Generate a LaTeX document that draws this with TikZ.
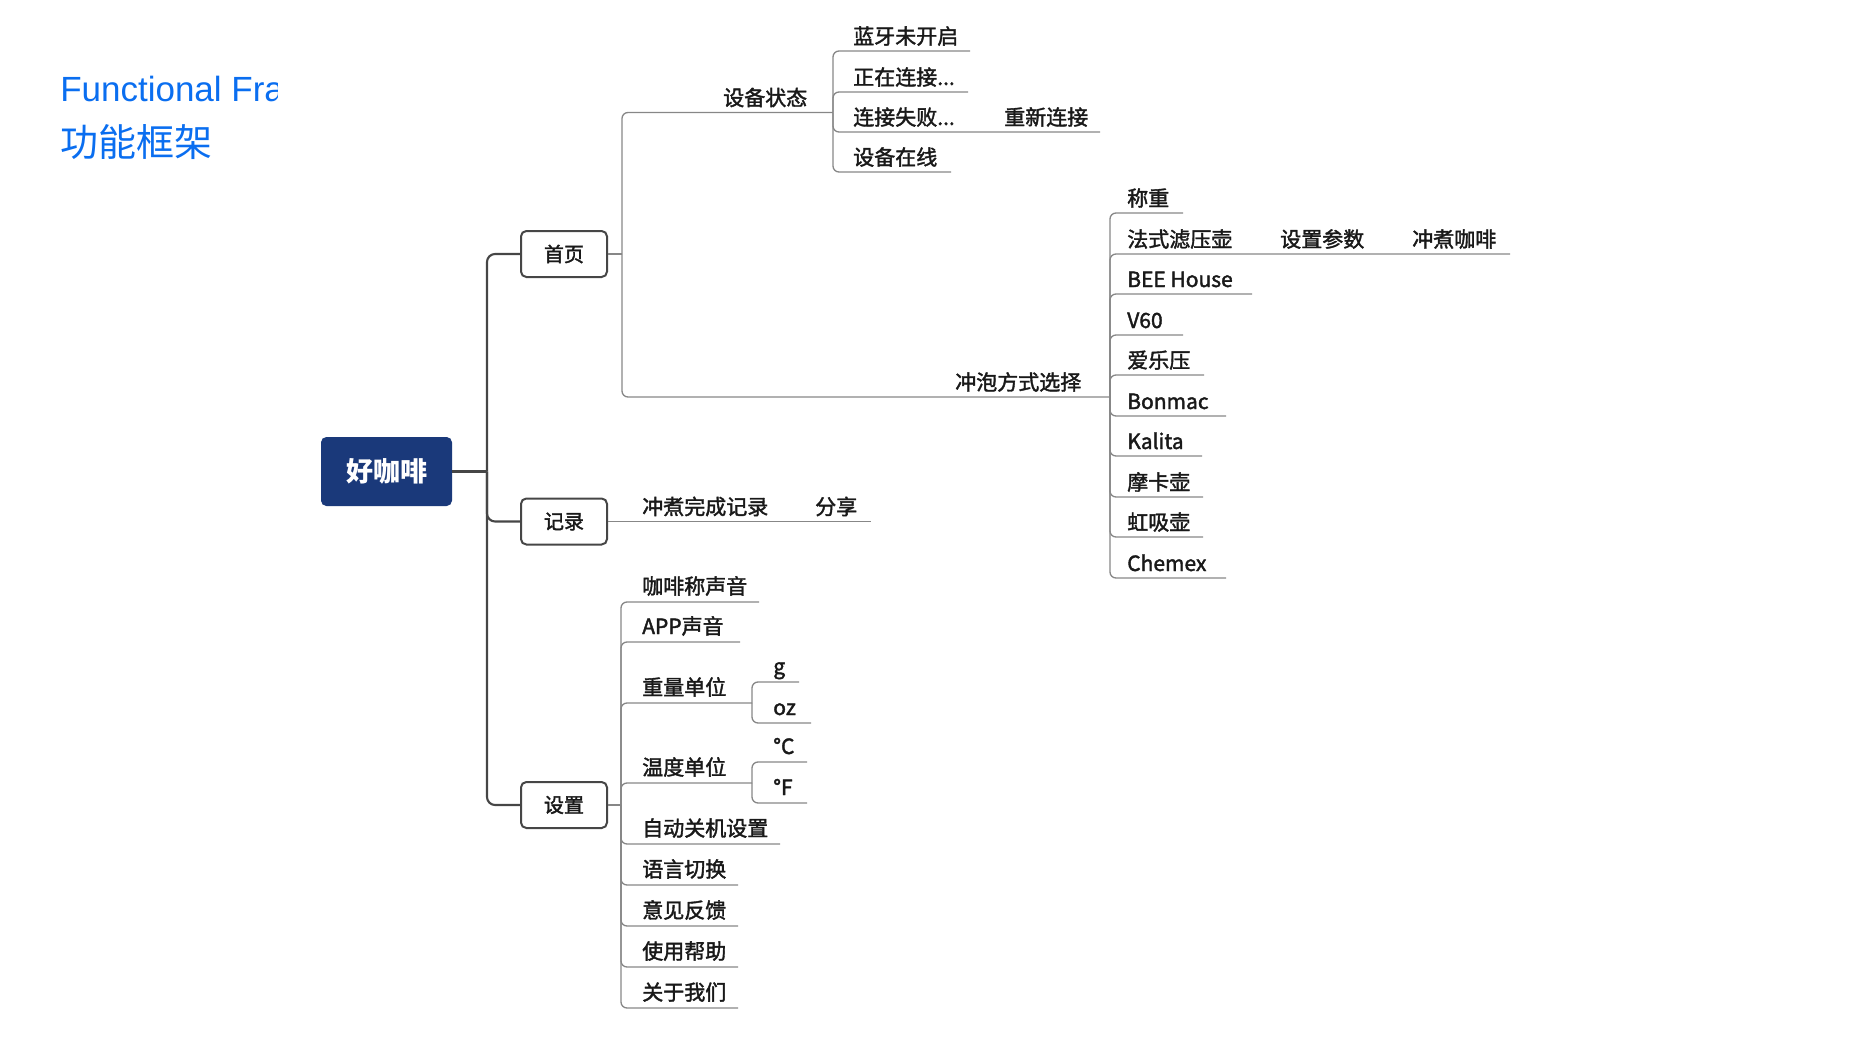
\documentclass[tikz,border=0pt]{standalone}
\usepackage{fontspec}
\setmainfont{Noto Sans CJK SC}
\newfontfamily\semib{Noto Sans CJK SC}[FakeBold=1.8]
\newfontfamily\latinf{Liberation Sans}
\definecolor{titleblue}{RGB}{10,110,240}
\definecolor{rootblue}{RGB}{26,57,122}
\definecolor{tline}{RGB}{70,70,70}
\definecolor{bline}{RGB}{135,135,135}
\definecolor{txtc}{RGB}{25,25,25}
\begin{document}
\begin{tikzpicture}[x=0.75pt,y=-0.75pt,
  txt/.style={anchor=base west, inner sep=0pt, text=txtc, font=\semib\fontsize{15.75pt}{18pt}\selectfont},
  l2/.style={draw=bline, line width=1pt, rounded corners=4.5pt},
  trunkl/.style={draw=tline, line width=1.6pt, rounded corners=6pt},
  lvbox/.style={draw=tline, line width=1.5pt, rounded corners=4pt, fill=white,
    minimum width=64.5pt, minimum height=34.5pt, inner sep=0pt, text=txtc,
    font=\semib\fontsize{15pt}{18pt}\selectfont},
  rootbox/.style={fill=rootblue, rounded corners=4pt, minimum width=98.25pt,
    minimum height=51.75pt, inner sep=0pt, text=white,
    font=\bfseries\fontsize{20.25pt}{24pt}\selectfont}
]
\useasboundingbox (0,0) rectangle (1867,1050);

% title
\begin{scope}
  \clip (0,0) rectangle (277,200);
  \node[anchor=base west, inner sep=0pt, text=titleblue,
    font=\latinf\fontsize{26.25pt}{30pt}\selectfont] (t1) at (60,101) {Functional Fra};
\end{scope}
\node[anchor=base west, inner sep=0pt, text=titleblue,
  font=\fontsize{28.5pt}{32pt}\selectfont] (t2) at (60,156) {功能框架};

% root and level 1
\node[rootbox] (root) at (386.5,471.5) {好咖啡};
\node[lvbox] (shouye) at (564,254) {首页};
\node[lvbox] (jilu) at (564,521.5) {记录};
\node[lvbox] (shezhi) at (564,805) {设置};

\coordinate (tr) at (487,471.5);
\draw[trunkl] (root.east) -- (tr);
\draw[trunkl] (tr) |- (shouye.west);
\draw[trunkl] (tr) |- (jilu.west);
\draw[trunkl] (tr) |- (shezhi.west);

% ---------- 首页 ----------
\coordinate (sy-b) at (622,254);
\draw[l2] (shouye.east) -- (sy-b);
\coordinate (zt-b) at (833,112.5);
\coordinate (cp-b) at (1110,397);
\draw[l2] (sy-b) |- (zt-b);
\draw[l2] (sy-b) |- (cp-b);
\node[txt] (zt) at (723,105.5) {设备状态};
\node[txt] (cp) at (955,390) {冲泡方式选择};

% 设备状态 children
\coordinate (ly-e) at (970,51);
\coordinate (zl-e) at (968,92);
\coordinate (sb-e) at (985,132);
\coordinate (cx-e) at (1100,132);
\coordinate (zx-e) at (951,172);
\draw[l2] (zt-b) |- (ly-e);
\draw[l2] (zt-b) |- (zl-e);
\draw[l2] (zt-b) |- (sb-e) -- (cx-e);
\draw[l2] (zt-b) |- (zx-e);
\node[txt] (ly) at (853,44) {蓝牙未开启};
\node[txt] (zl) at (853,85) {正在连接...};
\node[txt] (sb) at (853,125) {连接失败...};
\node[txt] (cx) at (1004,125) {重新连接};
\node[txt] (zx) at (853,165) {设备在线};

% 冲泡方式选择 children
\coordinate (cz-e) at (1183,213);
\coordinate (fs-e) at (1262,254);
\coordinate (cs-e) at (1393,254);
\coordinate (zk-e) at (1510,254);
\coordinate (bh-e) at (1252,294);
\coordinate (v6-e) at (1183,335);
\coordinate (al-e) at (1204,375);
\coordinate (bm-e) at (1226,416);
\coordinate (kl-e) at (1202,456);
\coordinate (mk-e) at (1203,497);
\coordinate (hx-e) at (1203,537);
\coordinate (cm-e) at (1226,578);
\draw[l2] (cp-b) |- (cz-e);
\draw[l2] (cp-b) |- (fs-e) -- (cs-e) -- (zk-e);
\draw[l2] (cp-b) |- (bh-e);
\draw[l2] (cp-b) |- (v6-e);
\draw[l2] (cp-b) |- (al-e);
\draw[l2] (cp-b) |- (bm-e);
\draw[l2] (cp-b) |- (kl-e);
\draw[l2] (cp-b) |- (mk-e);
\draw[l2] (cp-b) |- (hx-e);
\draw[l2] (cp-b) |- (cm-e);
\node[txt] (cz) at (1127,206) {称重};
\node[txt] (fs) at (1127,247) {法式滤压壶};
\node[txt] (cs) at (1280,247) {设置参数};
\node[txt] (zk) at (1412,247) {冲煮咖啡};
\node[txt] (bh) at (1127,287) {BEE House};
\node[txt] (v6) at (1127,328) {V60};
\node[txt] (al) at (1127,368) {爱乐压};
\node[txt] (bm) at (1127,409) {Bonmac};
\node[txt] (kl) at (1127,449) {Kalita};
\node[txt] (mk) at (1127,490) {摩卡壶};
\node[txt] (hx) at (1127,530) {虹吸壶};
\node[txt] (cm) at (1127,571) {Chemex};

% ---------- 记录 ----------
\coordinate (wc-e) at (795,521.5);
\coordinate (fx-e) at (871,521.5);
\draw[l2] (jilu.east) -- (wc-e) -- (fx-e);
\node[txt] (wc) at (642,514.5) {冲煮完成记录};
\node[txt] (fx) at (815,514.5) {分享};

% ---------- 设置 ----------
\coordinate (sz-b) at (621,805);
\draw[l2] (shezhi.east) -- (sz-b);
\coordinate (ks-e) at (759,602);
\coordinate (as-e) at (740,642);
\coordinate (zd-b) at (752,703);
\coordinate (wd-b) at (752,783);
\coordinate (gj-e) at (780,844);
\coordinate (yy-e) at (738,885);
\coordinate (yj-e) at (738,926);
\coordinate (bz-e) at (738,967);
\coordinate (gy-e) at (738,1008);
\draw[l2] (sz-b) |- (ks-e);
\draw[l2] (sz-b) |- (as-e);
\draw[l2] (sz-b) |- (zd-b);
\draw[l2] (sz-b) |- (wd-b);
\draw[l2] (sz-b) |- (gj-e);
\draw[l2] (sz-b) |- (yy-e);
\draw[l2] (sz-b) |- (yj-e);
\draw[l2] (sz-b) |- (bz-e);
\draw[l2] (sz-b) |- (gy-e);
\node[txt] (ks) at (642,594) {咖啡称声音};
\node[txt] (as) at (642,634) {APP声音};
\node[txt] (zd) at (642,695) {重量单位};
\node[txt] (wd) at (642,775) {温度单位};
\node[txt] (gj) at (642,836) {自动关机设置};
\node[txt] (yy) at (642,877) {语言切换};
\node[txt] (yj) at (642,918) {意见反馈};
\node[txt] (bz) at (642,959) {使用帮助};
\node[txt] (gy) at (642,1000) {关于我们};

% units
\coordinate (g-e) at (799,682);
\coordinate (oz-e) at (811,723);
\coordinate (c-e) at (807,762);
\coordinate (f-e) at (807,803);
\draw[l2] (zd-b) |- (g-e);
\draw[l2] (zd-b) |- (oz-e);
\draw[l2] (wd-b) |- (c-e);
\draw[l2] (wd-b) |- (f-e);
\node[txt] (g) at (773,674) {g};
\node[txt] (oz) at (773,715) {oz};
\node[txt] (c) at (773,754) {°C};
\node[txt] (f) at (773,795) {°F};
\end{tikzpicture}
\end{document}
